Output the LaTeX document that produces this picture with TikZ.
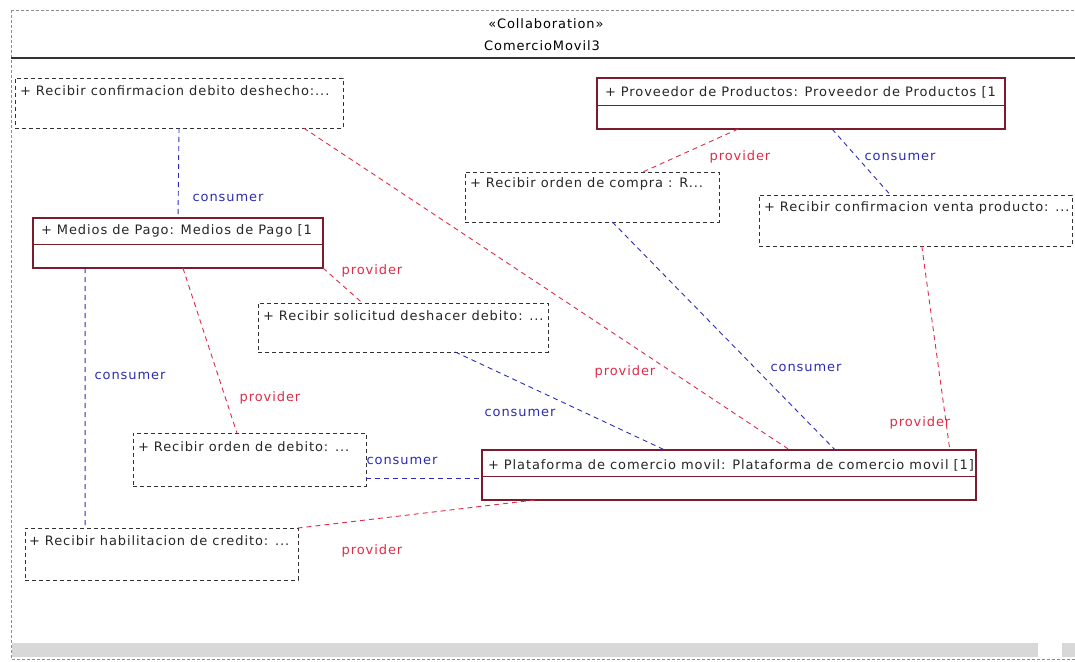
\documentclass[tikz,border=0pt]{standalone}
\usepackage{fontspec}
\setmainfont{DejaVu Sans}[LetterSpace=7]
\usetikzlibrary{calc}

\definecolor{partline}{RGB}{122,28,44}
\definecolor{provred}{RGB}{222,44,72}
\definecolor{consblue}{RGB}{44,44,178}
\definecolor{boxgray}{RGB}{50,50,50}
\definecolor{framegray}{RGB}{140,140,140}
\definecolor{bargray}{RGB}{216,216,216}

\tikzset{
  every node/.style={font=\fontsize{13}{15}\selectfont, inner sep=0pt, outer sep=0pt},
  portbox/.style={draw=boxgray, line width=0.9pt, dash pattern=on 4pt off 3pt, anchor=north west, rectangle},
  partbox/.style={draw=partline, line width=1.1pt, anchor=north west, rectangle},
  boxtext/.style={anchor=west, text=black!85},
  provline/.style={draw=provred, line width=0.9pt, dash pattern=on 5pt off 4pt},
  consline/.style={draw=consblue, line width=0.9pt, dash pattern=on 5pt off 4pt},
  provlbl/.style={text=provred},
  conslbl/.style={text=consblue},
}

\begin{document}
\begin{tikzpicture}[x=1pt,y=-1pt]
\useasboundingbox (0,0) rectangle (1075,661);

% collaboration frame with its header
\draw[framegray, line width=0.7pt, dash pattern=on 3pt off 2pt] (11,10) -- (1075,10);
\draw[framegray, line width=0.7pt, dash pattern=on 3pt off 2pt] (11,10) -- (11,659) -- (1075,659);
\draw[black!80, line width=1.6pt] (11,58) -- (1075,58);
\node (stereo) at (546,24) {«Collaboration»};
\node (cname) at (542,46) {ComercioMovil3};

% scroll bar along the bottom
\fill[bargray] (12,643) rectangle (1038,657);
\fill[bargray] (1062,643) rectangle (1075,657);

% parts (solid boxes with a compartment line)
\node[partbox, minimum width=408pt, minimum height=51pt] (prov) at (597,78) {};
\node[partbox, minimum width=290pt, minimum height=50pt] (medios) at (33,218) {};
\node[partbox, minimum width=494pt, minimum height=50pt] (plat) at (482,450) {};
\draw[partline, line width=1pt] ($(prov.north west)!0.53!(prov.south west)$) -- ($(prov.north east)!0.53!(prov.south east)$);
\draw[partline, line width=1pt] ($(medios.north west)!0.52!(medios.south west)$) -- ($(medios.north east)!0.52!(medios.south east)$);
\draw[partline, line width=1pt] ($(plat.north west)!0.52!(plat.south west)$) -- ($(plat.north east)!0.52!(plat.south east)$);

\begin{scope}
\clip (597,78) rectangle (1004,129);
\node[boxtext] (provt) at (605,92) {+ Proveedor de Productos: Proveedor de Productos [1};
\end{scope}
\begin{scope}
\clip (33,218) rectangle (322,268);
\node[boxtext] (mediost) at (41,231) {+ Medios de Pago: Medios de Pago [1};
\end{scope}
\begin{scope}
\clip (482,450) rectangle (976,500);
\node[boxtext] (platt) at (488,465) {+ Plataforma de comercio movil: Plataforma de comercio movil [1]};
\end{scope}

% ports (dashed boxes)
\node[portbox, minimum width=328pt, minimum height=50pt] (dchw) at (15,78) {};
\node[portbox, minimum width=254pt, minimum height=50pt] (ocomp) at (465,172) {};
\node[portbox, minimum width=313pt, minimum height=51pt] (cvp) at (759,195) {};
\node[portbox, minimum width=290pt, minimum height=49pt] (sdd) at (258,303) {};
\node[portbox, minimum width=233pt, minimum height=53pt] (odeb) at (133,433) {};
\node[portbox, minimum width=273pt, minimum height=52pt] (hcred) at (25,528) {};

\node[boxtext] (dchwt) at (20,91) {+ Recibir confirmacion debito deshecho:...};
\node[boxtext] (ocompt) at (470,184) {+ Recibir orden de compra : R...};
\node[boxtext] (cvpt) at (764,208) {+ Recibir confirmacion venta producto: ...};
\node[boxtext] (sddt) at (263,316) {+ Recibir solicitud deshacer debito: ...};
\node[boxtext] (odebt) at (138,447) {+ Recibir orden de debito: ...};
\node[boxtext] (hcredt) at (29,541) {+ Recibir habilitacion de credito: ...};

% connectors
\draw[consline] (dchw.south) -- (medios.north);
\draw[provline] ($(dchw.south west)!0.88!(dchw.south east)$) -- ($(plat.north west)!0.623!(plat.north east)$);
\draw[provline] ($(prov.south west)!0.346!(prov.south east)$) -- ($(ocomp.north west)!0.70!(ocomp.north east)$);
\draw[consline] ($(prov.south west)!0.576!(prov.south east)$) -- ($(cvp.north west)!0.42!(cvp.north east)$);
\draw[consline] ($(ocomp.south west)!0.58!(ocomp.south east)$) -- ($(plat.north west)!0.715!(plat.north east)$);
\draw[provline] ($(cvp.south west)!0.52!(cvp.south east)$) -- ($(plat.north west)!0.947!(plat.north east)$);
\draw[provline] (medios.south east) -- ($(sdd.north west)!0.36!(sdd.north east)$);
\draw[provline] ($(medios.south west)!0.517!(medios.south east)$) -- ($(odeb.north west)!0.446!(odeb.north east)$);
\draw[consline] ($(medios.south west)!0.18!(medios.south east)$) -- ($(hcred.north west)!0.22!(hcred.north east)$);
\draw[consline] ($(sdd.south west)!0.68!(sdd.south east)$) -- ($(plat.north west)!0.37!(plat.north east)$);
\coordinate (odebside) at ($(odeb.north east)!0.85!(odeb.south east)$);
\draw[consline] (odebside) -- (odebside -| plat.west);
\draw[provline] ($(plat.south west)!0.107!(plat.south east)$) -- (hcred.north east);

% role labels
\node[conslbl] (l1) at (228,198) {consumer};
\node[provlbl] (l2) at (740,157) {provider};
\node[conslbl] (l3) at (900,157) {consumer};
\node[provlbl] (l4) at (372,271) {provider};
\node[conslbl] (l5) at (130,376) {consumer};
\node[provlbl] (l6) at (270,398) {provider};
\node[conslbl] (l7) at (520,413) {consumer};
\node[provlbl] (l8) at (625,372) {provider};
\node[conslbl] (l9) at (806,368) {consumer};
\node[provlbl] (l10) at (920,423) {provider};
\node[conslbl] (l11) at (402,461) {consumer};
\node[provlbl] (l12) at (372,551) {provider};
\end{tikzpicture}
\end{document}
